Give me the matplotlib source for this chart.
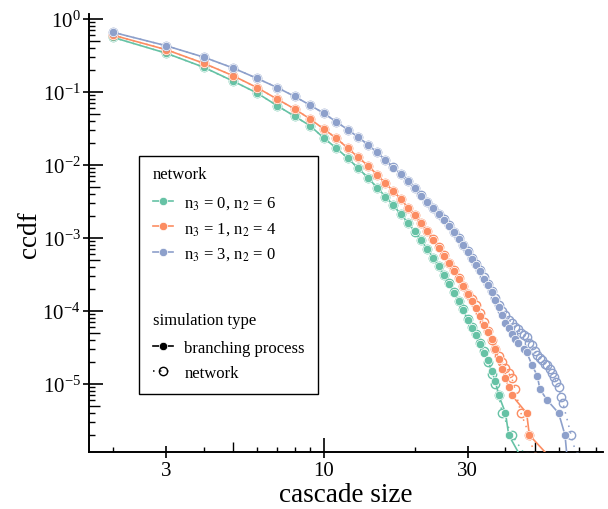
import numpy as np
import matplotlib
matplotlib.use("Agg")
import matplotlib.pyplot as plt
import matplotlib.transforms as mtransforms
from matplotlib.lines import Line2D
from matplotlib.ticker import FixedLocator, FixedFormatter, NullFormatter, LogFormatterMathtext

plt.rcParams['font.family'] = ['Liberation Serif', 'DejaVu Serif']
plt.rcParams['mathtext.fontset'] = 'stix'

# ---------------- data ----------------
series_labels = [r'n$_3$ = 0, n$_2$ = 6', r'n$_3$ = 1, n$_2$ = 4', r'n$_3$ = 3, n$_2$ = 0']
colors = ['#66c2a5', '#fc8d62', '#8da0cb']

green_bp_x = list(range(2, 38)) + [38, 40, 41, 45]
green_bp_y = [0.56, 0.34, 0.218, 0.141, 0.097, 0.065, 0.0465, 0.0345, 0.0234,
              0.017, 0.0124, 0.0090, 0.0067, 0.0049, 0.0037, 0.0028, 0.0021, 0.00162, 0.00123,
              9.3e-4, 7.1e-4, 5.4e-4, 4.1e-4, 3.1e-4, 2.35e-4, 1.78e-4, 1.35e-4, 1.02e-4, 7.5e-5,
              5.9e-5, 4.7e-5, 3.5e-5, 2.7e-5, 2.1e-5, 1.5e-5, 1.1e-5,
              7e-6, 4e-6, 2e-6, 1e-6]
green_net_x = list(range(2, 40)) + [42, 47]
green_net_y = [0.56, 0.34, 0.217, 0.141, 0.097, 0.065, 0.0465, 0.0345, 0.0234,
               0.0170, 0.0124, 0.0090, 0.0067, 0.0049, 0.0037, 0.0028, 0.0021, 0.0016, 0.00122,
               9.3e-4, 7.1e-4, 5.4e-4, 4.15e-4, 3.15e-4, 2.4e-4, 1.8e-4, 1.38e-4, 1.05e-4, 7.8e-5,
               6.1e-5, 4.8e-5, 3.7e-5, 2.8e-5, 2.0e-5, 1.35e-5, 1.0e-5, 7e-6, 4e-6,
               2e-6, 1e-6]

orange_bp_x = list(range(2, 43)) + [47, 48, 56]
orange_bp_y = [0.60, 0.38, 0.247, 0.167, 0.115, 0.080, 0.0585, 0.0427, 0.031,
               0.0232, 0.017, 0.0127, 0.0098, 0.0074, 0.0056, 0.0044, 0.0034, 0.0026, 0.00204,
               1.58e-3, 1.23e-3, 9.5e-4, 7.4e-4, 5.75e-4, 4.5e-4, 3.55e-4, 2.75e-4, 2.2e-4, 1.7e-4,
               1.38e-4, 1.1e-4, 8.5e-5, 6.5e-5, 5.2e-5, 4.2e-5, 3.0e-5, 2.2e-5, 1.6e-5, 1.2e-5,
               9e-6, 7e-6,
               4e-6, 2e-6, 1e-6]
orange_net_x = list(range(2, 44)) + [45, 48, 50]
orange_net_y = [0.60, 0.38, 0.247, 0.167, 0.115, 0.080, 0.0585, 0.0427, 0.031,
                0.0232, 0.0171, 0.0127, 0.0098, 0.0074, 0.0057, 0.0044, 0.0034, 0.0026, 0.00206,
                1.6e-3, 1.24e-3, 9.6e-4, 7.5e-4, 5.8e-4, 4.6e-4, 3.6e-4, 2.8e-4, 2.2e-4, 1.72e-4,
                1.45e-4, 1.2e-4, 9.5e-5, 7.1e-5, 5.4e-5, 4.0e-5, 3.0e-5, 2.4e-5, 2.0e-5, 1.66e-5,
                1.4e-5, 1.2e-5, 8.5e-6,
                4e-6, 2e-6, 1e-6]

blue_bp_x = list(range(2, 45)) + [46, 47, 49, 51, 52, 55, 60, 63, 64]
blue_bp_y = [0.657, 0.43, 0.30, 0.213, 0.154, 0.115, 0.087, 0.066, 0.051,
             0.039, 0.0305, 0.024, 0.019, 0.0149, 0.0117, 0.0092, 0.0075, 0.0061, 0.0048,
             0.0038, 0.0031, 2.57e-3, 2.14e-3, 1.78e-3, 1.48e-3, 1.2e-3, 9.8e-4, 7.9e-4, 6.4e-4,
             5.2e-4, 4.3e-4, 3.5e-4, 2.75e-4, 2.25e-4, 1.8e-4, 1.4e-4, 1.12e-4, 8.7e-5, 6.9e-5,
             5.8e-5, 4.9e-5, 4.2e-5, 3.6e-5,
             3.0e-5, 2.75e-5, 1.8e-5, 1.3e-5, 8.5e-6, 6e-6, 4e-6, 2e-6, 1e-6]
blue_net_x = list(range(2, 63)) + [66, 69]
blue_net_y = [0.657, 0.43, 0.30, 0.213, 0.154, 0.115, 0.087, 0.066, 0.051,
              0.039, 0.0305, 0.024, 0.019, 0.0149, 0.0117, 0.0093, 0.0075, 0.0061, 0.0049,
              0.0039, 0.0031, 2.6e-3, 2.15e-3, 1.8e-3, 1.5e-3, 1.22e-3, 1.0e-3, 8.1e-4, 6.6e-4,
              5.4e-4, 4.45e-4, 3.6e-4, 2.9e-4, 2.35e-4, 1.9e-4, 1.5e-4, 1.2e-4, 1.0e-4, 8.7e-5,
              7.6e-5, 6.8e-5, 6.0e-5, 5.6e-5, 5.0e-5, 4.7e-5, 4.4e-5, 3.7e-5, 3.4e-5, 2.8e-5,
              2.5e-5, 2.3e-5, 2.1e-5, 1.9e-5, 1.8e-5, 1.6e-5, 1.4e-5, 1.25e-5, 1.05e-5, 9e-6,
              6.6e-6, 5.5e-6,
              2e-6, 1e-6]

bp_x = [green_bp_x, orange_bp_x, blue_bp_x]
bp_y = [green_bp_y, orange_bp_y, blue_bp_y]
net_x = [green_net_x, orange_net_x, blue_net_x]
net_y = [green_net_y, orange_net_y, blue_net_y]

x_major_ticks = [3, 10, 30]
x_major_labels = ['3', '10', '30']
x_minor_ticks = [2, 4, 5, 6, 7, 8, 9, 20, 40, 50, 60, 70, 80]
y_major_ticks = [1e-6, 1e-5, 1e-4, 1e-3, 1e-2, 1e-1, 1e0]

# ---------------- figure ----------------
PX = 0.72  # points per pixel at dpi 100
fig = plt.figure(figsize=(6.08, 5.10), dpi=100)
ax = fig.add_axes([89 / 608, 1 - 453.3 / 510, (603 - 89) / 608, (453.3 - 15) / 510])
ax.set_xscale('log')
ax.set_yscale('log')

MS = 6.0
dots = (0, (1, 3.5))
for i in range(3):
    c = colors[i]
    ax.plot(net_x[i], net_y[i], color=c, lw=1.1, ls=dots, marker='o', ms=MS,
            mfc='none', mec=c, mew=1.0, zorder=2 + 2 * i)
    ax.plot(bp_x[i], bp_y[i], color=c, lw=1.2, marker='o', ms=MS,
            mfc=c, mec='white', mew=0.5, zorder=3 + 2 * i)

ax.set_xlim(1.665, 84.2)
ax.set_ylim(1.16e-6, 1.17)
for s in ['top', 'right']:
    ax.spines[s].set_visible(False)
for s in ['left', 'bottom']:
    ax.spines[s].set_linewidth(1.2)

ax.xaxis.set_major_locator(FixedLocator(x_major_ticks))
ax.xaxis.set_major_formatter(FixedFormatter(x_major_labels))
ax.xaxis.set_minor_locator(FixedLocator(x_minor_ticks))
ax.xaxis.set_minor_formatter(NullFormatter())
y_minor_ticks = [k * d for d in y_major_ticks[:-1] for k in range(2, 10)]
ax.yaxis.set_major_locator(FixedLocator(y_major_ticks))
ax.yaxis.set_major_formatter(LogFormatterMathtext())
ax.yaxis.set_minor_locator(FixedLocator(y_minor_ticks))
ax.yaxis.set_minor_formatter(NullFormatter())

ax.tick_params(which='major', direction='in', length=14 * PX, width=1.2, labelsize=15, pad=6)
ax.tick_params(which='minor', direction='in', length=5.5 * PX, width=1.0)

# individual tick lengths
xt = ax.xaxis.get_major_ticks(len(x_major_ticks))
for t, loc in zip(xt, x_major_ticks):
    if loc != 10:
        t.tick1line.set_markersize(6 * PX)
xm = ax.xaxis.get_minor_ticks(len(x_minor_ticks))
for t, loc in zip(xm, x_minor_ticks):
    if loc in (5, 50):
        t.tick1line.set_markersize(10 * PX)
ym = ax.yaxis.get_minor_ticks(len(y_minor_ticks))
for t, loc in zip(ym, y_minor_ticks):
    if abs(loc / (10 ** np.floor(np.log10(loc) + 1e-9)) - 5) < 1e-6:
        t.tick1line.set_markersize(10.5 * PX)

# outward parts of the major ticks
secx = ax.secondary_xaxis('bottom')
secx.set_ticks(x_major_ticks)
secx.tick_params(which='major', direction='out', length=6 * PX, width=1.2, labelbottom=False)
secx.tick_params(which='minor', length=0)
secx.spines['bottom'].set_linewidth(1.2)
secy = ax.secondary_yaxis('left')
secy.set_ticks(y_major_ticks)
secy.tick_params(which='major', direction='out', length=6 * PX, width=1.2, labelleft=False)
secy.tick_params(which='minor', length=0)
secy.spines['left'].set_linewidth(1.2)

ax.set_xlabel('cascade size', fontsize=19.5, labelpad=2)
ax.set_ylabel('ccdf', fontsize=19.5, labelpad=0)

# ---------------- legend ----------------
blank = Line2D([], [], color='none')
handles = [blank]
labels = ['network']
for i in range(3):
    handles.append(Line2D([], [], color=colors[i], lw=1.2, marker='o', ms=MS,
                          mfc=colors[i], mec='white', mew=0.5))
    labels.append(series_labels[i])
handles += [blank, blank,
            Line2D([], [], color='black', lw=1.2, marker='o', ms=MS, mfc='black', mec='white', mew=0.5),
            Line2D([], [], color='black', lw=1.1, ls=dots, marker='o', ms=MS, mfc='none', mec='black', mew=1.0)]
labels += ['\n', 'simulation type', 'branching process', 'network']

fs = 12
hl, htp = 1.2, 0.7
leg = ax.legend(handles, labels, loc='upper left', bbox_to_anchor=(139.3 / 608, 1 - 156.7 / 510),
                bbox_transform=fig.transFigure, borderaxespad=0, fontsize=fs,
                handlelength=hl, handletextpad=htp, borderpad=0.8, labelspacing=0.54,
                frameon=True, fancybox=False, framealpha=1, edgecolor='black')
leg.get_frame().set_linewidth(1.0)
dx = (hl + htp) * fs / 72 * fig.dpi
texts = leg.get_texts()
for idx in (0, 5):
    texts[idx].set_transform(texts[idx].get_transform() + mtransforms.Affine2D().translate(-dx, 3))

fig.savefig('out.png', dpi=100)
